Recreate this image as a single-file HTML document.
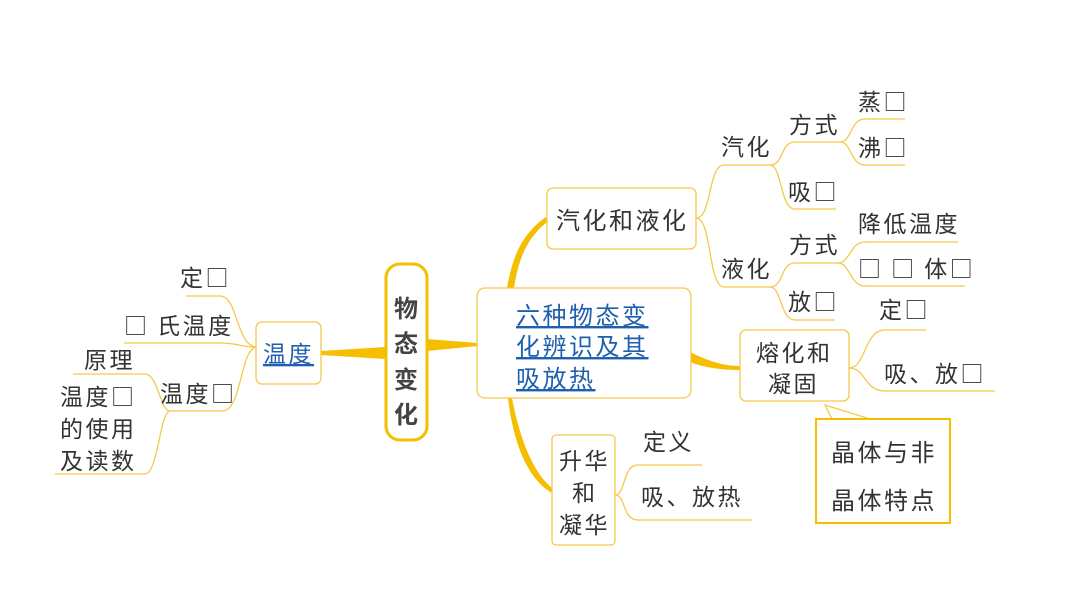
<!DOCTYPE html>
<html><head><meta charset="utf-8"><style>
html,body{margin:0;padding:0;background:#fff;}
svg{display:block}
text{font-family:"Noto Sans CJK SC","Liberation Sans",sans-serif;fill:#333;font-size:23px;letter-spacing:2.5px}
.b{fill:#1F5FAF;text-decoration:underline}
.l{fill:none;stroke:#F5C84A;stroke-width:1.3}
.bx{fill:#fff;stroke:#F5C84A;stroke-width:1.3}
</style></head><body>
<svg width="1066" height="600" viewBox="0 0 1066 600" xmlns="http://www.w3.org/2000/svg">
<path d="M386 347 L321 351 L321 355 L386 359 Z" fill="#F5BE00"/>
<path d="M427 339 L478 343 L478 346 L427 351 Z" fill="#F5BE00"/>
<path d="M507 288 C512 260 520 235 546 217 L547 222 C525 240 518 262 514 288 Z" fill="#F5BE00"/>
<path d="M690 352 C710 362 725 366 740 366 L740 370 C722 370 705 368 690 362 Z" fill="#F5BE00"/>
<path d="M512 398 C518 430 530 470 552 488 L552 493 C526 478 513 440 508 398 Z" fill="#F5BE00"/>

<rect x="386" y="264" width="41" height="176" rx="14" fill="#fff" stroke="#F5BE00" stroke-width="3"/>
<text x="394" y="317" style="font-weight:bold;fill:#444;font-size:24px">物</text>
<text x="394" y="352" style="font-weight:bold;fill:#444;font-size:24px">态</text>
<text x="394" y="388" style="font-weight:bold;fill:#444;font-size:24px">变</text>
<text x="394" y="423" style="font-weight:bold;fill:#444;font-size:24px">化</text>

<rect class="bx" x="256" y="322" width="65" height="62" rx="6"/>
<text class="b" x="263" y="362">温度</text>
<rect class="bx" x="477" y="288" width="214" height="110" rx="8"/>
<text class="b" x="516" y="324" style="font-size:24px">六种物态变</text>
<text class="b" x="516" y="355" style="font-size:24px">化辨识及其</text>
<text class="b" x="516" y="387" style="font-size:24px">吸放热</text>
<rect class="bx" x="547" y="188" width="149" height="61" rx="6"/>
<text x="556" y="229" style="font-size:24px">汽化和液化</text>
<rect class="bx" x="740" y="330" width="109" height="71" rx="6"/>
<text x="756" y="361">熔化和</text>
<text x="768" y="392">凝固</text>
<rect class="bx" x="552" y="435" width="63" height="110" rx="4"/>
<text x="559" y="469">升华</text>
<text x="572" y="501">和</text>
<text x="559" y="533">凝华</text>

<path d="M825 405 L870 419 L832 419 Z" fill="#fff" stroke="#F5C84A" stroke-width="1.3"/>
<rect x="816" y="419" width="134" height="104" fill="#fff" stroke="#F5BE00" stroke-width="2"/>
<text x="831" y="461" style="font-size:24px">晶体与非</text>
<text x="831" y="509" style="font-size:24px">晶体特点</text>

<path class="l" d="M256 347 C236 345 238 296 220 296 L186 296"/>
<path class="l" d="M256 347 C240 347 238 343 220 343 L124 343"/>
<path class="l" d="M256 347 C240 350 242 411 222 411 L170 411"/>
<path class="l" d="M170 411 C160 411 158 374 145 374 L73 374"/>
<path class="l" d="M170 411 C160 411 158 474 145 474 L55 474"/>
<text x="180" y="286">定□</text>
<text x="124" y="334">□ 氏温度</text>
<text x="84" y="368">原理</text>
<text x="160" y="402">温度□</text>
<text x="60" y="405">温度□</text>
<text x="60" y="437">的使用</text>
<text x="60" y="469">及读数</text>

<path class="l" d="M696 218 C712 218 708 165 724 165 L770 165"/>
<path class="l" d="M696 218 C712 218 708 287 724 287 L770 287"/>
<text x="721" y="155">汽化</text>
<text x="721" y="277">液化</text>
<path class="l" d="M770 165 C784 165 780 142 795 142 L840 142"/>
<path class="l" d="M770 165 C782 165 780 209 795 209 L836 209"/>
<text x="789" y="133">方式</text>
<text x="788" y="200">吸□</text>
<path class="l" d="M840 142 C852 142 850 119 865 119 L905 119"/>
<path class="l" d="M840 142 C852 142 850 165 865 165 L905 165"/>
<text x="858" y="110">蒸□</text>
<text x="858" y="156">沸□</text>
<path class="l" d="M770 287 C784 287 780 263 795 263 L838 263"/>
<path class="l" d="M770 287 C782 287 780 320 795 320 L835 320"/>
<text x="789" y="253">方式</text>
<text x="788" y="310">放□</text>
<path class="l" d="M838 263 C850 263 850 242 865 242 L958 242"/>
<path class="l" d="M838 263 C850 263 850 286 865 286 L965 286"/>
<text x="858" y="232">降低温度</text>
<text x="858" y="277">□ □ 体□</text>

<path class="l" d="M849 368 C866 368 864 330 885 330 L926 330"/>
<path class="l" d="M849 368 C866 368 864 391 885 391 L995 391"/>
<text x="879" y="318">定□</text>
<text x="884" y="382">吸、放□</text>

<path class="l" d="M615 495 C626 495 622 465 638 465 L702 465"/>
<path class="l" d="M615 495 C626 495 622 520 638 520 L752 520"/>
<text x="643" y="450">定义</text>
<text x="641" y="505">吸、放热</text>
</svg>
</body></html>
